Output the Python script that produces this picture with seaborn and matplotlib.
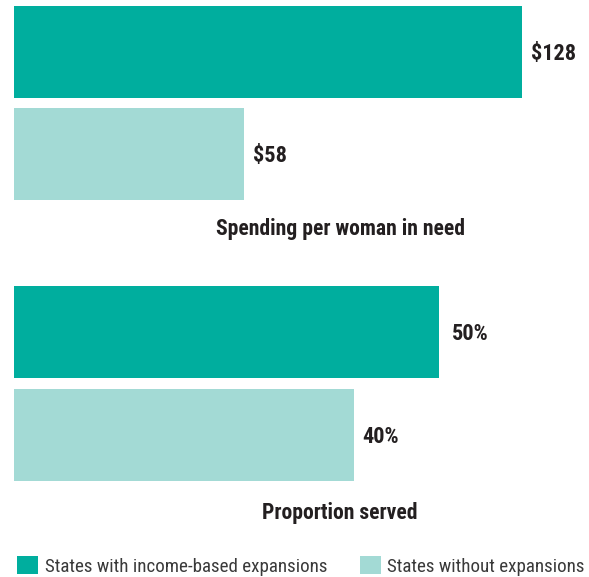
import matplotlib
matplotlib.use("Agg")
import matplotlib.pyplot as plt
import seaborn as sns
import pandas as pd
from matplotlib.patches import Patch

sns.set_theme(style="white")
plt.rcParams['font.family'] = ['Roboto Condensed', 'Archivo Narrow', 'DejaVu Sans']

groups = ["States with income-based expansions", "States without expansions"]
spending = [128, 58]
proportion = [50, 40]
spending_labels = ["$128", "$58"]
proportion_labels = ["50%", "40%"]
titles = ["Spending per woman in need", "Proportion served"]
colors = ["#00AE9E", "#A3DAD5"]
text_color = "#231F20"

W, H = 589, 577
fig = plt.figure(figsize=(W / 100, H / 100), dpi=100)

def make_ax(top_px, height_px, width_px, left_px=14):
    return fig.add_axes([left_px / W, 1 - (top_px + height_px) / H, width_px / W, height_px / H])

ax1 = make_ax(0.5, 205, 575)
ax2 = make_ax(280.5, 206, 575)

for ax, vals, labels, pads, xmax in [
    (ax1, spending, spending_labels, [6.5, 6.5], 575 / 3.97),
    (ax2, proportion, proportion_labels, [9.5, 6], 575 / 8.5),
]:
    df = pd.DataFrame({"group": groups, "value": vals})
    sns.barplot(data=df, y="group", x="value", hue="group", palette=colors,
                orient="h", width=0.893, dodge=False, legend=False, ax=ax,
                saturation=1, linewidth=0)
    ax.set_xlim(0, xmax)
    ax.set_ylim(1.5, -0.5)
    ax.axis("off")
    for i, (v, lab, p) in enumerate(zip(vals, labels, pads)):
        ax.annotate(lab, xy=(v, i), xytext=(p, -1.5), textcoords="offset points",
                    ha="left", va="center", fontsize=16, fontweight="bold",
                    color=text_color)

fig.text(340 / W, 1 - 228.5 / H, titles[0], ha="center", va="center",
         fontsize=15.6, fontweight="bold", color=text_color)
fig.text(340 / W, 1 - 513 / H, titles[1], ha="center", va="center",
         fontsize=15.6, fontweight="bold", color=text_color)

handles = [Patch(facecolor=c, edgecolor="none") for c in colors]
fig.legend(handles, groups, loc="center left", bbox_to_anchor=(17 / W, 1 - 566 / H),
           ncol=2, frameon=False, fontsize=13.7, labelcolor="#3a3a3a",
           handlelength=1.1, handleheight=1.1, handletextpad=0.35,
           columnspacing=1.72, borderpad=0, borderaxespad=0)

fig.savefig("out.png", dpi=100)
